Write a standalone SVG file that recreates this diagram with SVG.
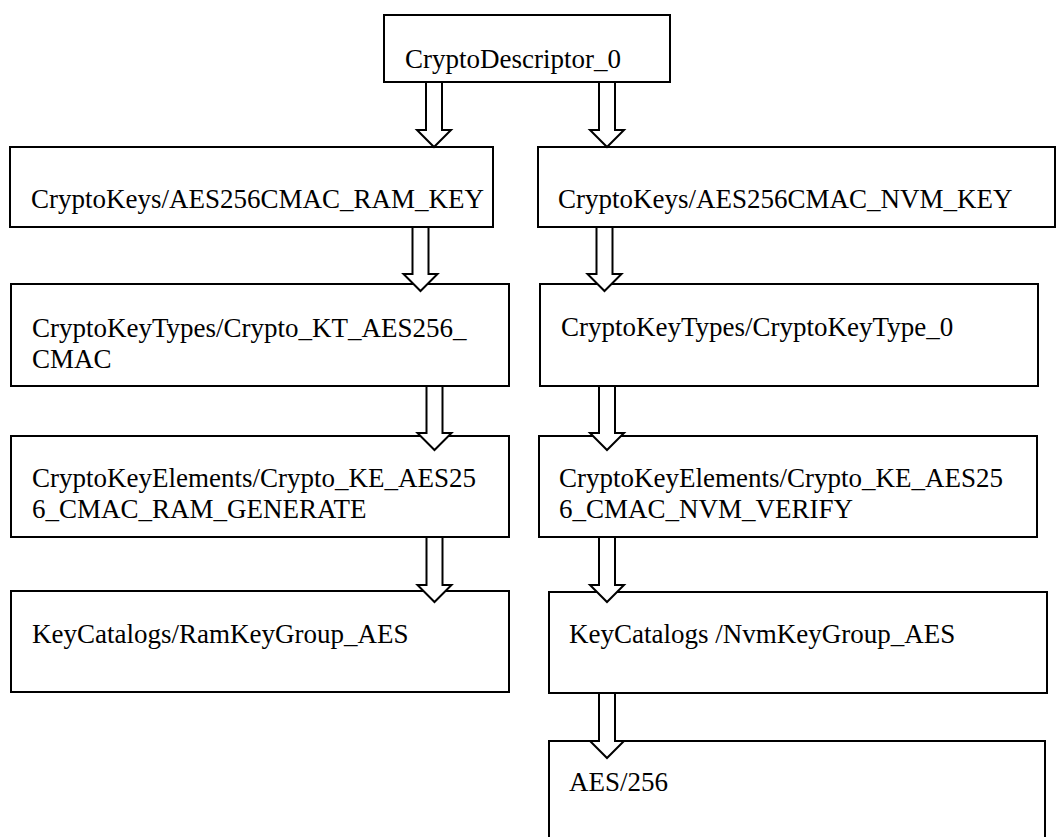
<svg xmlns="http://www.w3.org/2000/svg" width="1056" height="837" viewBox="0 0 1056 837">
<style>
.box{fill:#fff;stroke:#000;stroke-width:2}
.arr{fill:#fff;stroke:#000;stroke-width:2;stroke-linejoin:miter}
text{font-family:"Liberation Serif","Times New Roman",serif;font-size:27px;fill:#000}
</style>
<rect width="1056" height="837" fill="#fff"/>
<g id="n0"><rect class="box" x="384" y="15" width="286" height="67"/><text x="405" y="68">CryptoDescriptor_0</text></g>
<g id="nL1"><rect class="box" x="10" y="147" width="483" height="80"/><text x="31" y="208">CryptoKeys/AES256CMAC_RAM_KEY</text></g>
<g id="nR1"><rect class="box" x="538" y="147" width="517" height="80"/><text x="558" y="208">CryptoKeys/AES256CMAC_NVM_KEY</text></g>
<g id="nL2"><rect class="box" x="11" y="284" width="498" height="102"/><text x="32" y="337">CryptoKeyTypes/Crypto_KT_AES256_</text><text x="32" y="368">CMAC</text></g>
<g id="nR2"><rect class="box" x="540" y="284" width="498" height="102"/><text x="561" y="336">CryptoKeyTypes/CryptoKeyType_0</text></g>
<g id="nL3"><rect class="box" x="11" y="436" width="498" height="101"/><text x="32" y="487">CryptoKeyElements/Crypto_KE_AES25</text><text x="32" y="518">6_CMAC_RAM_GENERATE</text></g>
<g id="nR3"><rect class="box" x="539" y="436" width="498" height="101"/><text x="559" y="487">CryptoKeyElements/Crypto_KE_AES25</text><text x="559" y="518">6_CMAC_NVM_VERIFY</text></g>
<g id="nL4"><rect class="box" x="11" y="591" width="498" height="101"/><text x="32" y="643">KeyCatalogs/RamKeyGroup_AES</text></g>
<g id="nR4"><rect class="box" x="549" y="592" width="498" height="101"/><text x="569" y="643">KeyCatalogs /NvmKeyGroup_AES</text></g>
<g id="nR5"><rect class="box" x="549" y="741" width="496" height="120"/><text x="569" y="791">AES/256</text></g>
<g id="connectors">
<path class="arr" d="M426 82 L442 82 L442 130 L451 130 L434 147 L417 130 L426 130 Z"/>
<path class="arr" d="M599 82 L615 82 L615 130 L624 130 L607 147 L590 130 L599 130 Z"/>
<path class="arr" d="M412.5 227 L428.5 227 L428.5 274 L437.5 274 L420.5 291 L403.5 274 L412.5 274 Z"/>
<path class="arr" d="M596.5 227 L612.5 227 L612.5 274 L621.5 274 L604.5 291 L587.5 274 L596.5 274 Z"/>
<path class="arr" d="M426.5 386 L442.5 386 L442.5 433 L451.5 433 L434.5 450 L417.5 433 L426.5 433 Z"/>
<path class="arr" d="M599 386 L615 386 L615 433 L624 433 L607 450 L590 433 L599 433 Z"/>
<path class="arr" d="M426.5 537 L442.5 537 L442.5 585 L451.5 585 L434.5 602 L417.5 585 L426.5 585 Z"/>
<path class="arr" d="M599 537 L615 537 L615 585 L624 585 L607 602 L590 585 L599 585 Z"/>
<path class="arr" d="M599 693 L615 693 L615 741 L624 741 L607 758 L590 741 L599 741 Z"/>
</g>
</svg>
